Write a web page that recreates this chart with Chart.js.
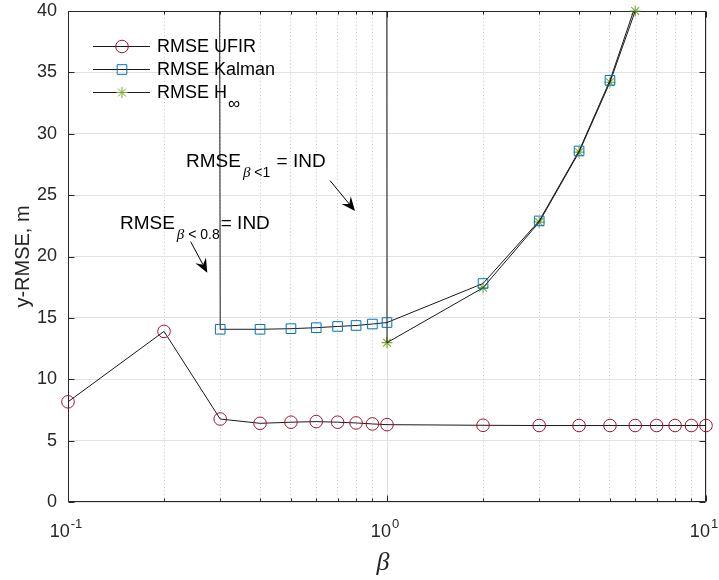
<!DOCTYPE html>
<html>
<head>
<meta charset="utf-8">
<script src="https://cdn.jsdelivr.net/npm/chart.js@4.4.1/dist/chart.umd.min.js"></script>
<style>
  html, body { margin: 0; padding: 0; background: #ffffff; }
  #wrap { width: 719px; height: 580px; }
</style>
</head>
<body>
<div id="wrap"><canvas id="c" width="719" height="580"></canvas></div>
<script>
// ---------------- data ----------------
const betaTicks = [0.1,0.2,0.3,0.4,0.5,0.6,0.7,0.8,0.9,1,2,3,4,5,6,7,8,9,10];
const majorTicks = [0.1, 1, 10];
const majorTickExponents = ['-1', '0', '1'];
const yTicks = [0, 5, 10, 15, 20, 25, 30, 35, 40];
const IND = 1e4; // indeterminate (off-scale) RMSE value

const ufirBeta = [0.1,0.2,0.3,0.4,0.5,0.6,0.7,0.8,0.9,1,2,3,4,5,6,7,8,9,10];
const ufirRmse = [8.16,13.9,6.76,6.41,6.5,6.55,6.5,6.44,6.36,6.3,6.25,6.23,6.23,6.23,6.23,6.23,6.23,6.23,6.23];

const kalmanBeta = [0.2,0.3,0.4,0.5,0.6,0.7,0.8,0.9,1,2,3,4,5,6];
const kalmanRmse = [IND,14.07,14.07,14.12,14.2,14.3,14.38,14.5,14.62,17.8,22.9,28.6,34.35,40.4];

const hinfBeta = [0.9,1,2,3,4,5,6];
const hinfRmse = [IND,12.98,17.45,22.8,28.5,34.2,40.0];

const seriesNames = ['RMSE UFIR', 'RMSE Kalman', 'RMSE H'];
const hinfSubscript = '\u221E';

// ---------------- styles ----------------
const FONT = "'Liberation Sans', Arial, Helvetica, sans-serif";
const SERIF = "'Liberation Serif', 'Times New Roman', serif";
const AXIS = '#262626';
const LINE = '#1a1a1a';
const C_UFIR = '#A2142F';
const C_KAL = '#0072BD';
const C_HINF = '#77AC30';

const toXY = (xs, ys) => xs.map((x, i) => ({ x: x, y: ys[i] }));
const isMajor = v => Math.abs(Math.log10(v) - Math.round(Math.log10(v))) < 1e-9;

function drawMarker(ctx, style, x, y, color) {
  ctx.save();
  ctx.strokeStyle = color;
  ctx.lineWidth = 1;
  ctx.beginPath();
  if (style === 'circle') {
    ctx.arc(x, y, 6.3, 0, Math.PI * 2);
  } else if (style === 'rect') {
    ctx.rect(x - 4.8, y - 4.8, 9.6, 9.6);
  } else {
    for (let k = 0; k < 4; k++) {
      const a = k * Math.PI / 4;
      ctx.moveTo(x - 5.5 * Math.cos(a), y - 5.5 * Math.sin(a));
      ctx.lineTo(x + 5.5 * Math.cos(a), y + 5.5 * Math.sin(a));
    }
  }
  ctx.stroke();
  ctx.restore();
}

function drawArrow(ctx, x1, y1, x2, y2) {
  const ang = Math.atan2(y2 - y1, x2 - x1);
  const hl = 14, hw = 6, notch = 9;
  ctx.save();
  ctx.strokeStyle = '#000';
  ctx.fillStyle = '#000';
  ctx.lineWidth = 1;
  ctx.beginPath();
  ctx.moveTo(x1, y1);
  ctx.lineTo(x2 - notch * Math.cos(ang), y2 - notch * Math.sin(ang));
  ctx.stroke();
  const bx = x2 - hl * Math.cos(ang), by = y2 - hl * Math.sin(ang);
  const nx = x2 - notch * Math.cos(ang), ny = y2 - notch * Math.sin(ang);
  const px = -Math.sin(ang), py = Math.cos(ang);
  ctx.beginPath();
  ctx.moveTo(x2, y2);
  ctx.lineTo(bx + hw * px, by + hw * py);
  ctx.lineTo(nx, ny);
  ctx.lineTo(bx - hw * px, by - hw * py);
  ctx.closePath();
  ctx.fill();
  ctx.restore();
}

function drawSubText(ctx, x, y, main1, subSym, subRest, main2) {
  ctx.save();
  ctx.fillStyle = '#000';
  ctx.textAlign = 'left';
  ctx.textBaseline = 'alphabetic';
  ctx.font = '19px ' + FONT;
  ctx.fillText(main1, x, y);
  let cx = x + ctx.measureText(main1).width + 2;
  const sy = y + 9.5;
  ctx.font = 'italic 15px ' + SERIF;
  ctx.fillText(subSym, cx, sy);
  cx += ctx.measureText(subSym).width;
  ctx.font = '14px ' + FONT;
  ctx.fillText(subRest, cx, sy);
  cx += ctx.measureText(subRest).width + 1;
  ctx.font = '19px ' + FONT;
  ctx.fillText(main2, cx, y);
  ctx.restore();
}

const decor = {
  id: 'decor',
  beforeDatasetsDraw(chart) {
    const { ctx, chartArea: a } = chart;
    const xs = chart.scales.x, ys = chart.scales.y;
    const L = Math.round(a.left) + 0.5, R = Math.round(a.right) - 0.5;
    const T = Math.round(a.top) + 0.5, B = Math.round(a.bottom) - 0.5;
    ctx.save();
    ctx.strokeStyle = AXIS;
    ctx.lineWidth = 1;
    ctx.beginPath();
    ctx.rect(L, T, R - L, B - T);
    betaTicks.forEach(v => {
      const px = Math.round(xs.getPixelForValue(v)) + 0.5;
      const len = isMajor(v) ? 6 : 3;
      ctx.moveTo(px, B); ctx.lineTo(px, B - len);
      ctx.moveTo(px, T); ctx.lineTo(px, T + len);
    });
    yTicks.forEach(v => {
      const py = Math.round(ys.getPixelForValue(v)) + 0.5;
      ctx.moveTo(L, py); ctx.lineTo(L + 6, py);
      ctx.moveTo(R, py); ctx.lineTo(R - 6, py);
    });
    ctx.stroke();
    ctx.restore();
  },
  afterDraw(chart) {
    const { ctx, chartArea: a } = chart;
    const xs = chart.scales.x, ys = chart.scales.y;
    ctx.save();
    // x tick labels 10^n
    ctx.fillStyle = AXIS;
    ctx.textBaseline = 'alphabetic';
    ctx.textAlign = 'left';
    majorTicks.forEach((v, i) => {
      const px = xs.getPixelForValue(v);
      ctx.font = '18px ' + FONT;
      const w1 = ctx.measureText('10').width;
      ctx.font = '13px ' + FONT;
      const w2 = ctx.measureText(majorTickExponents[i]).width;
      const x0 = px - (w1 + w2 + 1) / 2 - 2;
      ctx.font = '18px ' + FONT;
      ctx.fillText('10', x0, a.bottom + 35);
      ctx.font = '13px ' + FONT;
      ctx.fillText(majorTickExponents[i], x0 + w1 + 1, a.bottom + 25.5);
    });
    // x title
    ctx.font = 'italic 26px ' + SERIF;
    ctx.textAlign = 'center';
    ctx.fillText('\u03B2', (a.left + a.right) / 2 - 4, a.bottom + 68);
    // y title
    ctx.save();
    ctx.translate(29, (a.top + a.bottom) / 2);
    ctx.rotate(-Math.PI / 2);
    ctx.font = '20px ' + FONT;
    ctx.textAlign = 'center';
    ctx.fillText('y-RMSE, m', 0, 0);
    ctx.restore();

    // legend
    const rows = [
      { dy: 34.5, style: 'circle', color: C_UFIR },
      { dy: 57.5, style: 'rect', color: C_KAL },
      { dy: 80.5, style: 'star', color: C_HINF }
    ];
    rows.forEach((r, i) => {
      const y = a.top + r.dy;
      ctx.strokeStyle = LINE;
      ctx.lineWidth = 1;
      ctx.beginPath();
      ctx.moveTo(a.left + 25, Math.round(y) + 0.5);
      ctx.lineTo(a.left + 82, Math.round(y) + 0.5);
      ctx.stroke();
      drawMarker(ctx, r.style, a.left + 54, Math.round(y) + 0.5, r.color);
      ctx.fillStyle = '#000';
      ctx.font = '18px ' + FONT;
      ctx.textAlign = 'left';
      ctx.fillText(seriesNames[i], a.left + 89, y + 6.5);
      if (i === 2) {
        const w = ctx.measureText(seriesNames[i]).width;
        ctx.font = '17px ' + FONT;
        ctx.fillText(hinfSubscript, a.left + 89 + w + 1, y + 17.5);
      }
    });

    // annotations (placed in data coordinates)
    drawSubText(ctx, xs.getPixelForValue(0.2344), ys.getPixelForValue(27.27), 'RMSE', '\u03B2', ' <1', ' = IND');
    drawSubText(ctx, xs.getPixelForValue(0.1455), ys.getPixelForValue(22.22), 'RMSE', '\u03B2', ' < 0.8', '= IND');
    drawArrow(ctx, xs.getPixelForValue(0.663), ys.getPixelForValue(26.18), xs.getPixelForValue(0.7938), ys.getPixelForValue(23.71));
    drawArrow(ctx, xs.getPixelForValue(0.2424), ys.getPixelForValue(21.21), xs.getPixelForValue(0.2733), ys.getPixelForValue(18.68));
    ctx.restore();
  }
};

new Chart(document.getElementById('c'), {
  type: 'line',
  data: {
    datasets: [
      {
        label: seriesNames[0],
        data: toXY(ufirBeta, ufirRmse),
        borderColor: LINE, borderWidth: 1, tension: 0,
        pointStyle: 'circle', pointRadius: 6.3, pointBorderWidth: 1,
        pointBorderColor: C_UFIR, pointBackgroundColor: 'rgba(0,0,0,0)',
        clip: false
      },
      {
        label: seriesNames[1],
        data: toXY(kalmanBeta, kalmanRmse),
        borderColor: LINE, borderWidth: 1, tension: 0,
        pointStyle: 'rect', pointRadius: 6.8, pointBorderWidth: 1,
        pointBorderColor: C_KAL, pointBackgroundColor: 'rgba(0,0,0,0)'
      },
      {
        label: seriesNames[2] + hinfSubscript,
        data: toXY(hinfBeta, hinfRmse),
        borderColor: LINE, borderWidth: 1, tension: 0,
        pointRadius: 0
      },
      {
        label: seriesNames[2] + hinfSubscript + ' markers',
        data: toXY(hinfBeta, hinfRmse),
        showLine: false,
        pointStyle: 'star', pointRadius: 5.5, pointBorderWidth: 1.1,
        pointBorderColor: C_HINF, pointBackgroundColor: C_HINF,
        clip: false
      }
    ]
  },
  options: {
    responsive: false,
    animation: false,
    events: [],
    layout: { padding: { left: 0, top: 11, right: 13, bottom: 0 } },
    plugins: { legend: { display: false }, tooltip: { enabled: false }, title: { display: false } },
    scales: {
      x: {
        type: 'logarithmic', min: 0.1, max: 10,
        afterBuildTicks: s => { s.ticks = betaTicks.map(v => ({ value: v })); },
        afterFit: s => { s.height = 78; s.paddingLeft = 0; s.paddingRight = 0; s.paddingTop = 0; s.paddingBottom = 0; },
        ticks: { display: false },
        grid: {
          drawTicks: false, lineWidth: 1,
          color: c => (c.tick && isMajor(c.tick.value)) ? '#dedede' : '#c8c8c8'
        },
        border: {
          display: false,
          dash: c => (c.tick && !isMajor(c.tick.value)) ? [1, 2.5] : []
        }
      },
      y: {
        type: 'linear', min: 0, max: 40,
        afterBuildTicks: s => { s.ticks = yTicks.map(v => ({ value: v })); },
        afterFit: s => { s.width = 68; s.paddingTop = 0; s.paddingBottom = 0; s.paddingLeft = 0; s.paddingRight = 0; },
        ticks: { font: { family: FONT, size: 18 }, color: AXIS, padding: 11 },
        grid: { drawTicks: false, lineWidth: 1, color: '#e2e2e2' },
        border: { display: false }
      }
    }
  },
  plugins: [decor]
});
</script>
</body>
</html>
